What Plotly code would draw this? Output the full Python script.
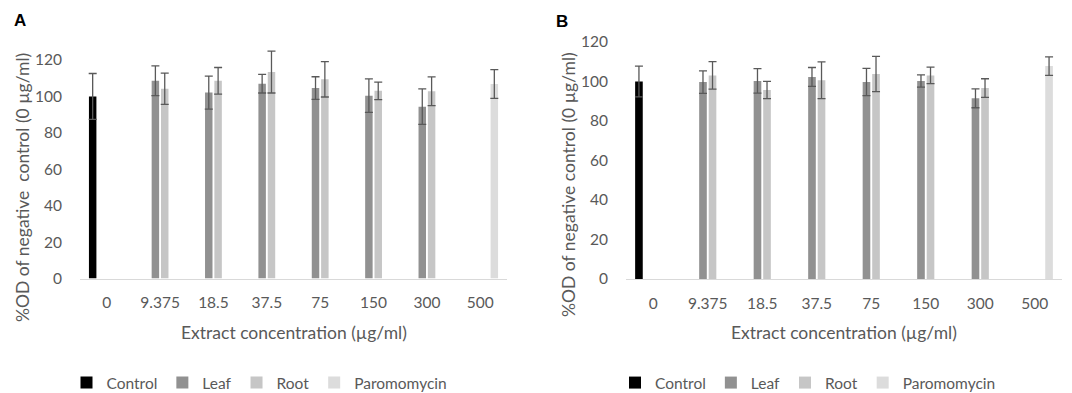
import plotly.graph_objects as go

categories = ["0", "9.375", "18.5", "37.5", "75", "150", "300", "500"]

# Panel A
A_control = [100, None, None, None, None, None, None, None]
A_control_err = [12.6, 0, 0, 0, 0, 0, 0, 0]
A_leaf = [None, 108.6, 102.1, 107.0, 104.6, 100.4, 94.4, None]
A_leaf_err = [0, 8.2, 9.1, 5.1, 6.2, 9.2, 9.7, 0]
A_root = [None, 104.2, 108.6, 113.4, 109.4, 103.1, 102.8, None]
A_root_err = [0, 8.6, 7.3, 11.5, 9.7, 4.8, 7.9, 0]
A_paro = [None, None, None, None, None, None, None, 106.8]
A_paro_err = [0, 0, 0, 0, 0, 0, 0, 7.9]

# Panel B
B_control = [100, None, None, None, None, None, None, None]
B_control_err = [7.8, 0, 0, 0, 0, 0, 0, 0]
B_leaf = [None, 99.7, 100.3, 102.3, 99.7, 100.3, 91.5, None]
B_leaf_err = [0, 5.7, 6.2, 4.8, 6.9, 3.1, 4.8, 0]
B_root = [None, 103.1, 95.7, 100.6, 103.8, 103.1, 96.7, None]
B_root_err = [0, 7.0, 4.4, 9.3, 8.9, 4.2, 4.7, 0]
B_paro = [None, None, None, None, None, None, None, 107.8]
B_paro_err = [0, 0, 0, 0, 0, 0, 0, 4.7]

series_names = ["Control", "Leaf", "Root", "Paromomycin"]
colors = ["#000000", "#919191", "#c6c6c6", "#dcdcdc"]

FONT = "Lato"
TXT = "#595959"
ERR = "#595959"

fig = go.Figure()

panels = [
    ("x", "y", "legend", [A_control, A_leaf, A_root, A_paro],
     [A_control_err, A_leaf_err, A_root_err, A_paro_err]),
    ("x2", "y2", "legend2", [B_control, B_leaf, B_root, B_paro],
     [B_control_err, B_leaf_err, B_root_err, B_paro_err]),
]

for xa, ya, lg, vals, errs in panels:
    for name, col, v, e in zip(series_names, colors, vals, errs):
        fig.add_trace(go.Bar(
            x=categories, y=v, name=name, marker_color=col,
            marker_line_width=0,
            error_y=dict(type="data", array=e, visible=True,
                         color=ERR, thickness=1.3, width=4),
            xaxis=xa, yaxis=ya, legend=lg,
            offsetgroup=name,
        ))

axis_common_x = dict(
    type="category", showgrid=False, zeroline=False,
    showline=True, linecolor="#d9d9d9", linewidth=1,
    ticks="outside", ticklen=10, tickcolor="rgba(0,0,0,0)",
    tickfont=dict(family=FONT, size=15.5, color=TXT),
    automargin=False,
)
axis_common_y = dict(
    showgrid=False, zeroline=False, showline=False,
    tickvals=[0, 20, 40, 60, 80, 100, 120],
    ticks="outside", ticklen=14, tickcolor="rgba(0,0,0,0)",
    tickfont=dict(family=FONT, size=15.5, color=TXT),
    automargin=False,
)

legend_common = dict(
    orientation="h", xanchor="center", yanchor="middle",
    xref="container", yref="container",
    font=dict(family=FONT, size=15.5, color=TXT),
    itemwidth=30, bgcolor="rgba(0,0,0,0)",
)

fig.update_layout(
    width=1072, height=393,
    margin=dict(l=0, r=0, t=0, b=0, autoexpand=False),
    paper_bgcolor="white", plot_bgcolor="white",
    barmode="group", bargap=0.3, bargroupgap=0.2,
    xaxis=dict(domain=[80 / 1072, 507 / 1072], anchor="y", **axis_common_x),
    yaxis=dict(domain=[(393 - 278.5) / 393, (393 - 49.1) / 393], anchor="x",
               range=[0, 126], **axis_common_y),
    xaxis2=dict(domain=[626 / 1072, 1062 / 1072], anchor="y2", **axis_common_x),
    yaxis2=dict(domain=[(393 - 279) / 393, (393 - 42) / 393], anchor="x2",
                range=[0, 120], **axis_common_y),
    legend=dict(x=259.5 / 1072, y=(393 - 383) / 393, **legend_common),
    legend2=dict(x=808 / 1072, y=(393 - 383) / 393, **legend_common),
)


def ann(text, x, y, size, color=TXT, family=FONT, angle=0):
    return dict(text=text, x=x / 1072, y=(393 - y) / 393, xref="paper", yref="paper",
                xanchor="center", yanchor="middle", textangle=angle, showarrow=False,
                font=dict(family=family, size=size, color=color))


annotations = [
    ann("<b>A</b>", 20, 21, 17, "#000000", "Liberation Sans"),
    ann("<b>B</b>", 562, 22, 17, "#000000", "Liberation Sans"),
    ann("%OD of negative&nbsp; control (0 µg/ml)", 23, 188, 17.5, angle=-90),
    ann("%OD of negative control (0 µg/ml)", 568, 185, 17.5, angle=-90),
    ann("Extract concentration (µg/ml)", 293.5, 332, 17.5),
    ann("Extract concentration (µg/ml)", 844, 332, 17.5),
]
fig.update_layout(annotations=annotations)

fig.write_html("out.html",
               config={"displayModeBar": False},
               post_script="document.body.style.margin='0';document.body.style.padding='0';")
